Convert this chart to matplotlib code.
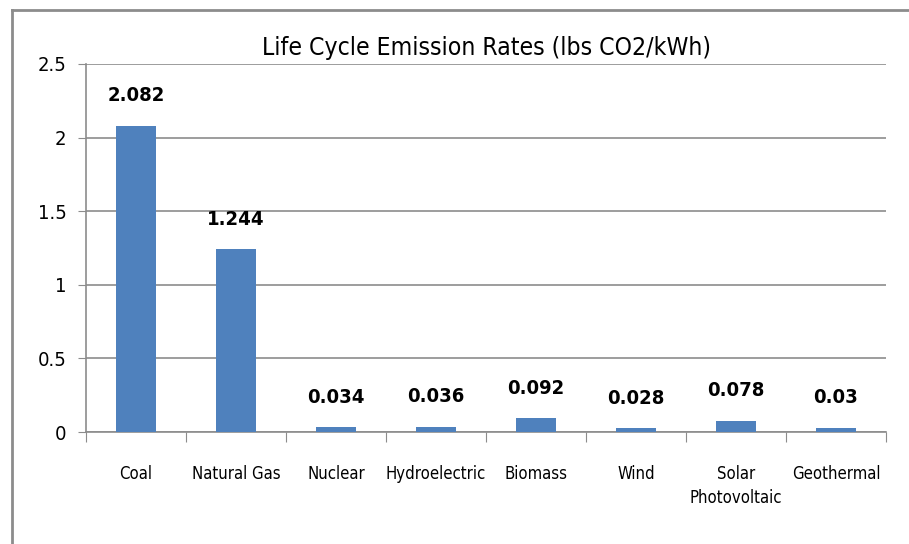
import numpy as np
import matplotlib.pyplot as plt
from matplotlib.lines import Line2D

# data
sources = ["Coal", "Natural Gas", "Nuclear", "Hydroelectric", "Biomass",
           "Wind", "Solar\nPhotovoltaic", "Geothermal"]
emissions = [2.082, 1.244, 0.034, 0.036, 0.092, 0.028, 0.078, 0.03]
value_labels = ["2.082", "1.244", "0.034", "0.036", "0.092", "0.028", "0.078", "0.03"]
y_ticks = [0, 0.5, 1, 1.5, 2, 2.5]
y_tick_labels = ["0", "0.5", "1", "1.5", "2", "2.5"]

plt.rcParams['font.family'] = ['DejaVu Sans']
plt.rcParams['font.stretch'] = 'condensed'

W, H = 909, 544
fig = plt.figure(figsize=(W / 100, H / 100), dpi=100)
ax = fig.add_axes([86 / W, 1 - 432 / H, 800 / W, (432 - 64) / H])

x = np.arange(len(sources))
ax.bar(x, emissions, width=0.4, color="#4f81bd", zorder=3)
ax.set_xlim(-0.5, len(sources) - 0.5)
ax.set_ylim(0, 2.5)

ax.set_yticks(y_ticks)
ax.set_yticklabels(y_tick_labels, fontsize=14.5)
ax.yaxis.grid(True, color="#8c8c8c", linewidth=1.2, zorder=0)

# category ticks sit between bars, labels centred under bars
ax.set_xticks(np.arange(len(sources) + 1) - 0.5)
ax.set_xticklabels([])
ax.set_xticks(x, minor=True)
ax.set_xticklabels(sources, minor=True, fontsize=12, linespacing=1.4)
ax.tick_params(axis="x", which="minor", length=0, pad=24)
ax.tick_params(axis="x", which="major", length=7, direction="out", color="#8c8c8c")
ax.tick_params(axis="y", length=6, direction="out", color="#8c8c8c", pad=8)

for side in ["top", "right"]:
    ax.spines[side].set_visible(False)
for side in ["left", "bottom"]:
    ax.spines[side].set_color("#8c8c8c")
    ax.spines[side].set_linewidth(1.2)

for xi, v, t in zip(x, emissions, value_labels):
    ax.annotate(t, (xi, v), xytext=(0, 21.5), textcoords="offset points",
                ha="center", va="center", fontsize=14.5, fontweight="bold")

fig.text(486 / W, 1 - 48 / H, "Life Cycle Emission Rates (lbs CO2/kWh)",
         ha="center", va="center", fontsize=17.7)

# outer chart frame (only left and top edges visible in the crop)
fig.add_artist(Line2D([12 / W, 12 / W], [0, 1 - 10 / H], transform=fig.transFigure,
                      color="#8c8c8c", linewidth=2))
fig.add_artist(Line2D([12 / W, 1], [1 - 10 / H, 1 - 10 / H], transform=fig.transFigure,
                      color="#8c8c8c", linewidth=2))

fig.savefig("out.png", dpi=100)
